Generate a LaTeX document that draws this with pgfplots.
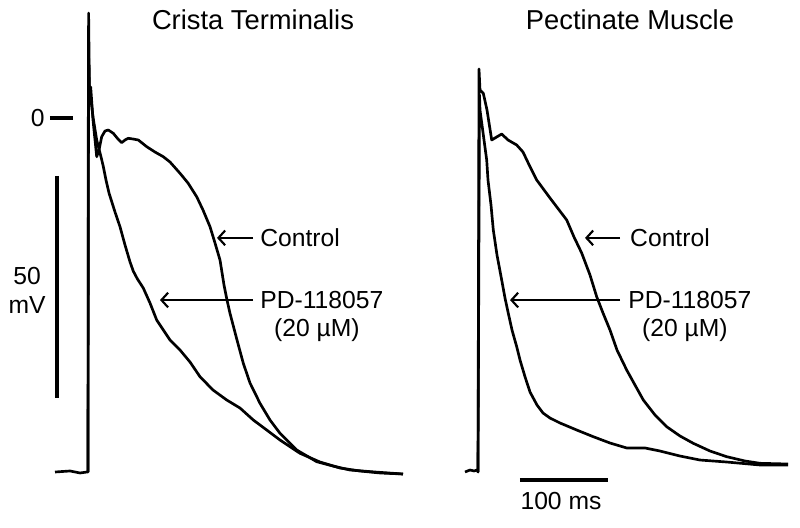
\documentclass[border=0pt]{standalone}
\usepackage{fontspec}
\setmainfont{Liberation Sans}
\usepackage{pgfplots}
\pgfplotsset{compat=1.18}
\usetikzlibrary{arrows.meta}

% traces: time in ms from the upstroke, membrane potential in mV
\pgfplotstableread{
t V
-37.5 -79.73
-20.45 -79.50
-9.09 -79.95
-1.14 -79.73
0 -79.73
0.68 23.65
1.70 5.18
3.07 6.98
5.68 -0.45
9.89 -8.72
12.5 -7.21
15.57 -4.21
19.32 -2.93
23.07 -2.70
28.75 -3.45
34.09 -4.73
38.30 -5.56
42.05 -4.95
45.80 -4.57
51.14 -4.73
57.16 -4.95
66.70 -6.46
76.14 -7.66
85.57 -8.72
93.18 -9.91
104.55 -12.45
113.64 -14.64
123.52 -17.73
130.68 -20.72
138.64 -24.48
144.32 -28.15
150.0 -31.98
154.55 -37.61
157.95 -40.99
161.36 -43.99
169.32 -50.00
176.48 -55.25
184.09 -59.68
195.45 -64.26
206.82 -68.02
218.18 -71.01
237.16 -74.77
259.89 -77.41
278.41 -78.38
297.73 -79.28
326.14 -79.73
357.95 -80.18
}\ctcontrol

\pgfplotstableread{
t V
0 -79.73
0.45 15.77
1.70 6.31
3.41 4.05
5.68 0.23
9.89 -4.95
13.64 -7.88
17.05 -10.59
20.45 -13.96
23.86 -16.89
30.68 -21.17
36.36 -24.48
42.05 -28.60
47.73 -32.40
51.48 -34.50
56.00 -36.20
62.84 -38.30
70.45 -41.67
78.07 -45.50
93.18 -50.00
104.55 -52.25
115.91 -54.95
127.27 -58.27
142.05 -61.26
157.61 -63.51
172.73 -65.32
187.84 -68.02
203.07 -70.27
218.18 -72.52
240.91 -75.52
263.64 -77.48
286.36 -78.83
309.09 -79.50
331.82 -79.95
357.95 -80.18
}\ctdrug

\pgfplotstableread{
t V
-14.77 -79.73
-9.09 -79.28
-4.55 -79.50
-1.14 -79.28
0 -79.73
1.14 11.04
2.27 6.31
6.02 5.56
10.23 1.80
15.57 -4.95
19.32 -4.50
26.93 -3.60
34.09 -4.95
43.98 -6.08
51.14 -7.66
59.09 -10.97
66.70 -13.96
81.82 -18.02
100.80 -22.97
109.09 -26.80
117.84 -30.41
127.27 -35.36
134.89 -40.25
142.05 -43.92
150.0 -47.75
157.95 -52.25
168.98 -56.76
178.41 -60.14
187.84 -63.51
201.14 -66.89
214.43 -69.53
229.55 -71.62
244.66 -73.27
263.64 -75.00
282.61 -76.28
303.41 -77.25
320.45 -77.77
352.27 -77.93
}\pmcontrol

\pgfplotstableread{
t V
0 -79.73
1.70 5.18
2.27 1.80
4.55 -1.58
6.82 -4.95
9.89 -9.46
11.36 -13.96
14.77 -19.59
17.39 -25.23
21.59 -30.86
26.93 -36.49
30.68 -40.54
34.43 -43.99
38.64 -47.75
43.98 -51.51
47.73 -54.50
53.41 -58.27
59.09 -61.71
67.05 -64.64
73.86 -66.44
81.82 -67.57
93.18 -68.69
112.16 -70.27
131.02 -71.78
150.0 -73.20
168.98 -74.32
189.77 -74.32
206.82 -75.00
229.55 -76.13
252.27 -77.03
282.61 -77.48
320.45 -78.15
352.27 -78.15
}\pmdrug

\tikzset{
  lbl/.style={font=\fontsize{18.5}{22}\selectfont, inner sep=0pt},
  ttl/.style={font=\fontsize{20.5}{24}\selectfont, inner sep=0pt},
  arr/.style={-{Straight Barb[length=5pt,width=11pt,line width=1.6pt]}, line width=1.7pt},
  apline/.style={black, line width=2pt, line join=round},
  bar/.style={line width=2.6pt},
}
\pgfplotsset{
  trace/.style={axis lines=none, scale only axis, clip=false,
    height=396pt, ymin=-92.34, ymax=26.58},
}

\begin{document}
\begin{tikzpicture}
\useasboundingbox (0,0) rectangle (600pt,396pt);
% Crista Terminalis
\begin{axis}[trace, at={(0pt,0pt)}, anchor=south west, width=315pt, xmin=-100, xmax=377.27]
\addplot[apline] table {\ctdrug};
\addplot[apline] table {\ctcontrol};
\node[ttl] at (axis cs:187.5,22.07) {Crista Terminalis};
\draw[bar] (axis cs:-43.2,0) -- (axis cs:-17.0,0);
\node[lbl, anchor=east] at (axis cs:-49,0) {0};
\draw[bar] (axis cs:-35.2,-13.06) -- (axis cs:-35.2,-63.06);
\node[lbl, align=center] at (axis cs:-69.3,-38.8) {50\\mV};
\node[lbl, anchor=west] at (axis cs:195.5,-27.0) {Control};
\draw[arr] (axis cs:187.5,-27.0) -- (axis cs:146.6,-27.0);
\node[lbl, anchor=west] at (axis cs:195.5,-41.0) {PD-118057};
\draw[arr] (axis cs:187.5,-41.0) -- (axis cs:81.8,-41.0);
\node[lbl] at (axis cs:260.2,-47.7) {(20 µM)};
\end{axis}
% Pectinate Muscle
\begin{axis}[trace, at={(315pt,0pt)}, anchor=south west, width=285pt, xmin=-65.91, xmax=365.91]
\addplot[apline] table {\pmdrug};
\addplot[apline] table {\pmcontrol};
\node[ttl] at (axis cs:172.7,22.07) {Pectinate Muscle};
\node[lbl, anchor=west] at (axis cs:172.7,-27.0) {Control};
\draw[arr] (axis cs:161.4,-27.0) -- (axis cs:121.6,-27.0);
\node[lbl, anchor=west] at (axis cs:170.5,-41.0) {PD-118057};
\draw[arr] (axis cs:161.4,-41.0) -- (axis cs:36.4,-41.0);
\node[lbl] at (axis cs:235.2,-47.7) {(20 µM)};
\draw[bar] (axis cs:47.7,-81.5) -- (axis cs:147.7,-81.5);
\node[lbl] at (axis cs:94.3,-86.2) {100 ms};
\end{axis}
\end{tikzpicture}
\end{document}
